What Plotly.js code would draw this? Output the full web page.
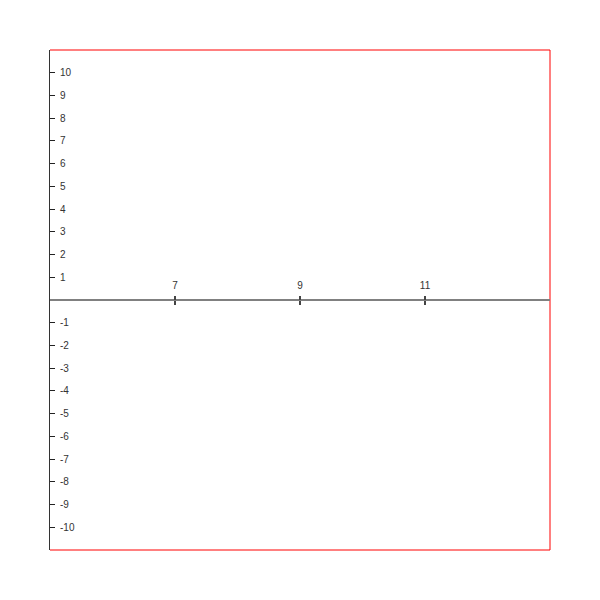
<!DOCTYPE html>
<html>
<head>
<meta charset="utf-8">
<script src="https://cdn.plot.ly/plotly-3.0.1.min.js"></script>
<style>html,body{margin:0;padding:0;background:#fff;}#chart{width:600px;height:600px;}</style>
</head>
<body>
<div id="chart"></div>
<script>
const xRange = [5, 13];
const yRange = [-11, 11];
const xTicks = [7, 9, 11];
const yTicks = [-10, -9, -8, -7, -6, -5, -4, -3, -2, -1, 1, 2, 3, 4, 5, 6, 7, 8, 9, 10];
const xValues = [];
const yValues = [];

const tickFont = {family: 'Liberation Sans, Arial, sans-serif', size: 10, color: '#333'};

const data = [
  {type: 'scatter', mode: 'markers', x: xValues, y: yValues, xaxis: 'x', yaxis: 'y', showlegend: false},
  {type: 'scatter', mode: 'markers', x: xValues, y: yValues, xaxis: 'x2', yaxis: 'y', showlegend: false}
];

const layout = {
  width: 600, height: 600,
  margin: {l: 50, r: 50, t: 50, b: 50},
  paper_bgcolor: '#fff', plot_bgcolor: '#fff',
  showlegend: false,
  xaxis: {
    range: xRange, tickvals: xTicks, ticktext: xTicks.map(String),
    anchor: 'free', position: 0.5, side: 'top',
    showgrid: false, zeroline: false, showline: false,
    ticks: 'outside', ticklen: 4, tickwidth: 2, tickcolor: '#444',
    ticklabelstandoff: 3,
    tickfont: tickFont, fixedrange: true
  },
  xaxis2: {
    range: xRange, tickvals: xTicks, overlaying: 'x',
    anchor: 'free', position: 0.5, side: 'bottom',
    showgrid: false, zeroline: false, showline: false, showticklabels: false,
    ticks: 'outside', ticklen: 4, tickwidth: 2, tickcolor: '#444', fixedrange: true
  },
  yaxis: {
    range: yRange, tickvals: yTicks, ticktext: yTicks.map(String),
    showgrid: false, zeroline: true, zerolinecolor: '#808080', zerolinewidth: 2,
    showline: true, linecolor: '#333', linewidth: 1,
    ticks: 'inside', ticklen: 5, tickwidth: 1, tickcolor: '#222',
    ticklabelposition: 'inside', ticklabelstandoff: 4,
    tickfont: tickFont, fixedrange: true
  },
  shapes: [
    {type: 'line', xref: 'paper', yref: 'paper', x0: 0, x1: 1, y0: 1, y1: 1, line: {color: '#ff0000', width: 1}, layer: 'below'},
    {type: 'line', xref: 'paper', yref: 'paper', x0: 1, x1: 1, y0: 0, y1: 1, line: {color: '#ff0000', width: 1}, layer: 'below'},
    {type: 'line', xref: 'paper', yref: 'paper', x0: 0, x1: 1, y0: 0, y1: 0, line: {color: '#ff0000', width: 1}, layer: 'below'}
  ]
};

Plotly.newPlot('chart', data, layout, {staticPlot: true, displayModeBar: false});
</script>
</body>
</html>
